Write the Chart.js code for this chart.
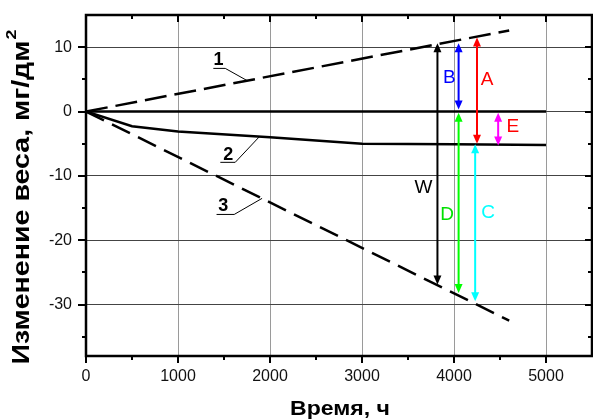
<!DOCTYPE html>
<html><head><meta charset="utf-8">
<script src="https://cdn.jsdelivr.net/npm/chart.js@4"></script>
<style>html,body{margin:0;padding:0;background:#fff}canvas{display:block}</style>
</head><body>
<canvas id="c" width="593" height="420"></canvas>
<script>
// ---- data ----
const xTicks = [0, 1000, 2000, 3000, 4000, 5000];
const yTicks = [-30, -20, -10, 0, 10];
const xMinor = [500, 1500, 2500, 3500, 4500];
const yMinor = [-35, -25, -15, -5, 5];
const line1X = [0, 4600];
const line1Y = [0, 12.6];
const line2X = [0, 500, 1000, 2000, 3000, 4000, 5000];
const line2Y = [0, -2.3, -3.1, -4.0, -5.0, -5.1, -5.2];
const line3X = [0, 4600];
const line3Y = [0, -32.5];
const zeroX = [0, 5000];
const zeroY = [0, 0];
const arrowNames = ['W', 'B', 'A', 'E', 'D', 'C'];
const arrowX = [3820, 4050, 4250, 4480, 4050, 4230];
const arrowFrom = [10.6, 10.6, 11.5, -0.2, -0.2, -5.1];
const arrowTo = [-26.9, 0.3, -5.0, -5.3, -28.2, -29.5];
const curveNames = ['1', '2', '3'];

// ---- annotation layout (data coordinates) ----
const arrowColors = ['#000000', '#0000ff', '#ff0000', '#ff00ff', '#00ff00', '#00ffff'];
const labelColors = ['#000000', '#0000ff', '#ff0000', '#ff0000', '#00e000', '#00ffff'];
const arrowLabelPos = [[3667, -11.8], [3948, 5.3], [4359, 5.0], [4640, -2.3], [3926, -16.0], [4370, -15.7]];
const curveLabelPos = [
  {t: [1440, 8.0], ul: [1384, 1514, 6.7], lead: [1752, 4.8]},
  {t: [1547, -6.7], ul: [1460, 1622, -7.9], lead: [1882, -3.95]},
  {t: [1493, -14.7], ul: [1419, 1611, -16.0], lead: [1914, -13.5]}
];

function pts(xs, ys) { return xs.map((x, i) => ({x: x, y: ys[i]})); }
const FONT = '"Liberation Sans", Arial, sans-serif';

const annot = {
  id: 'annot',
  afterDatasetsDraw(chart) {
    const ctx = chart.ctx, xs = chart.scales.x, ys = chart.scales.y;
    ctx.save();
    arrowX.forEach((xv, i) => {
      const px = xs.getPixelForValue(xv);
      const p1 = ys.getPixelForValue(arrowFrom[i]);
      const p2 = ys.getPixelForValue(arrowTo[i]);
      const dir = p2 > p1 ? 1 : -1;
      const hl = 9, hw = 4;
      ctx.strokeStyle = arrowColors[i];
      ctx.fillStyle = arrowColors[i];
      ctx.lineWidth = 2;
      ctx.beginPath();
      ctx.moveTo(px, p1 + dir * hl * 0.6);
      ctx.lineTo(px, p2 - dir * hl * 0.6);
      ctx.stroke();
      ctx.beginPath();
      ctx.moveTo(px, p1);
      ctx.lineTo(px - hw, p1 + dir * hl);
      ctx.lineTo(px + hw, p1 + dir * hl);
      ctx.closePath();
      ctx.fill();
      ctx.beginPath();
      ctx.moveTo(px, p2);
      ctx.lineTo(px - hw, p2 - dir * hl);
      ctx.lineTo(px + hw, p2 - dir * hl);
      ctx.closePath();
      ctx.fill();
      ctx.font = '19px ' + FONT;
      ctx.textAlign = 'center';
      ctx.textBaseline = 'middle';
      ctx.fillStyle = labelColors[i];
      ctx.fillText(arrowNames[i], xs.getPixelForValue(arrowLabelPos[i][0]), ys.getPixelForValue(arrowLabelPos[i][1]));
    });
    curveLabelPos.forEach((c, i) => {
      ctx.fillStyle = '#000';
      ctx.font = 'bold 18px ' + FONT;
      ctx.textAlign = 'center';
      ctx.textBaseline = 'middle';
      ctx.fillText(curveNames[i], xs.getPixelForValue(c.t[0]), ys.getPixelForValue(c.t[1]));
      const uy = ys.getPixelForValue(c.ul[2]);
      const ux1 = xs.getPixelForValue(c.ul[0]), ux2 = xs.getPixelForValue(c.ul[1]);
      ctx.strokeStyle = '#000';
      ctx.lineWidth = 1;
      ctx.beginPath();
      ctx.moveTo(ux1, uy);
      ctx.lineTo(ux2, uy);
      ctx.lineTo(xs.getPixelForValue(c.lead[0]), ys.getPixelForValue(c.lead[1]));
      ctx.stroke();
    });
    ctx.restore();
  },
  afterDraw(chart) {
    const ctx = chart.ctx, a = chart.chartArea, xs = chart.scales.x, ys = chart.scales.y;
    ctx.save();
    ctx.strokeStyle = '#000';
    ctx.lineWidth = 2;
    ctx.beginPath();
    xTicks.forEach(v => {
      const p = Math.round(xs.getPixelForValue(v));
      ctx.moveTo(p, a.bottom); ctx.lineTo(p, a.bottom + 7);
      ctx.moveTo(p, a.top); ctx.lineTo(p, a.top + 7);
    });
    xMinor.forEach(v => {
      const p = Math.round(xs.getPixelForValue(v));
      ctx.moveTo(p, a.bottom); ctx.lineTo(p, a.bottom + 4);
      ctx.moveTo(p, a.top); ctx.lineTo(p, a.top + 4);
    });
    yTicks.forEach(v => {
      const p = Math.round(ys.getPixelForValue(v));
      ctx.moveTo(a.left - 8, p); ctx.lineTo(a.left, p);
      ctx.moveTo(a.right, p); ctx.lineTo(a.right - 7, p);
    });
    yMinor.forEach(v => {
      const p = Math.round(ys.getPixelForValue(v));
      ctx.moveTo(a.left - 4, p); ctx.lineTo(a.left, p);
      ctx.moveTo(a.right, p); ctx.lineTo(a.right - 4, p);
    });
    ctx.stroke();
    ctx.lineWidth = 2.5;
    ctx.strokeRect(a.left, a.top, a.right - a.left, a.bottom - a.top);
    ctx.fillStyle = '#000';
    ctx.textBaseline = 'middle';
    ctx.textAlign = 'center';
    ctx.font = 'bold 21px ' + FONT;
    let w = ctx.measureText('Время, ч').width;
    ctx.save();
    ctx.translate(340, 409);
    ctx.scale(100 / w, 1);
    ctx.fillText('Время, ч', 0, 0);
    ctx.restore();

    ctx.save();
    ctx.translate(22, 197);
    ctx.rotate(-Math.PI / 2);
    const main = 'Изменение веса, мг/дм';
    ctx.font = 'bold 24px ' + FONT;
    const w1 = ctx.measureText(main).width;
    ctx.font = 'bold 15px ' + FONT;
    const w2 = ctx.measureText('2').width;
    const k = 335 / (w1 + w2 + 1);
    ctx.scale(k, 1);
    const s = -(w1 + w2 + 1) / 2;
    ctx.textAlign = 'left';
    ctx.font = 'bold 24px ' + FONT;
    ctx.fillText(main, s, 0);
    ctx.font = 'bold 15px ' + FONT;
    ctx.fillText('2', s + w1 + 1, -10);
    ctx.restore();
    ctx.restore();
  }
};

function zeroPad(s) { s.paddingTop = 0; s.paddingBottom = 0; s.paddingLeft = 0; s.paddingRight = 0; }

const chart = new Chart(document.getElementById('c'), {
  type: 'scatter',
  data: {
    datasets: [
      {data: pts(zeroX, zeroY), showLine: true, borderColor: '#000', borderWidth: 2.5, pointRadius: 0},
      {data: pts(line1X, line1Y), showLine: true, borderColor: '#000', borderWidth: 2.5, borderDash: [22, 8], pointRadius: 0},
      {data: pts(line2X, line2Y), showLine: true, borderColor: '#000', borderWidth: 2.5, pointRadius: 0},
      {data: pts(line3X, line3Y), showLine: true, borderColor: '#000', borderWidth: 2.5, borderDash: [20, 9], pointRadius: 0}
    ]
  },
  options: {
    responsive: false,
    animation: false,
    devicePixelRatio: 1,
    layout: {autoPadding: false, padding: {top: 15, right: 1, left: 0, bottom: 0}},
    plugins: {legend: {display: false}, tooltip: {enabled: false}, title: {display: false}},
    scales: {
      x: {
        type: 'linear', min: 0, max: 5500,
        afterFit: s => { s.height = 64; zeroPad(s); },
        afterBuildTicks: s => { s.ticks = xTicks.map(v => ({value: v})); },
        grid: {color: '#9a9a9a', lineWidth: 1, drawTicks: false},
        border: {display: false},
        ticks: {padding: 11, color: '#111', maxRotation: 0, autoSkip: false,
          callback: v => String(v),
          font: {family: FONT, size: 16}}
      },
      y: {
        type: 'linear', min: -38, max: 15,
        afterFit: s => { s.width = 86; zeroPad(s); },
        afterBuildTicks: s => { s.ticks = yTicks.map(v => ({value: v})); },
        grid: {color: '#444', lineWidth: 1, drawTicks: false},
        border: {display: false},
        ticks: {padding: 14, color: '#111', autoSkip: false,
          callback: v => String(v),
          font: {family: FONT, size: 16}}
      }
    }
  },
  plugins: [annot]
});
</script>
</body></html>
